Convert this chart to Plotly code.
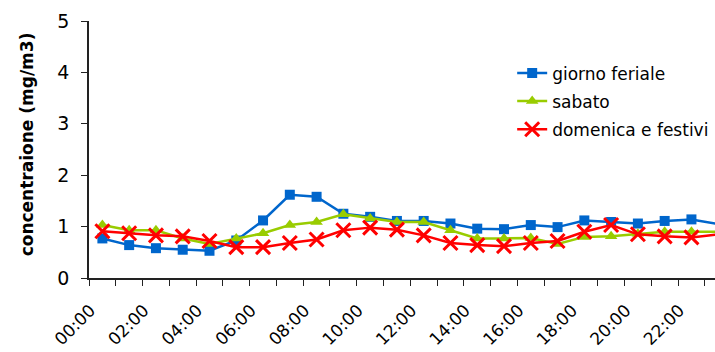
import plotly.graph_objects as go

# Hourly time slots
hours = [f"{h:02d}:00" for h in range(24)]

# Mean concentration (mg/m3) per hour
giorno_feriale = [0.77, 0.64, 0.58, 0.55, 0.53, 0.73, 1.12, 1.62, 1.58, 1.25, 1.19, 1.11,
                  1.11, 1.06, 0.96, 0.95, 1.03, 0.99, 1.12, 1.09, 1.06, 1.11, 1.14, 1.05]
sabato = [1.03, 0.93, 0.93, 0.77, 0.66, 0.77, 0.87, 1.03, 1.09, 1.24, 1.16, 1.09,
          1.09, 0.93, 0.77, 0.77, 0.78, 0.66, 0.80, 0.81, 0.86, 0.90, 0.90, 0.90]
domenica = [0.91, 0.87, 0.83, 0.81, 0.72, 0.60, 0.60, 0.68, 0.75, 0.93, 0.98, 0.94,
            0.83, 0.68, 0.64, 0.62, 0.68, 0.72, 0.90, 1.03, 0.85, 0.81, 0.79, 0.85]

x_idx = list(range(len(hours)))
FONT = "DejaVu Sans"

fig = go.Figure()
fig.add_trace(go.Scatter(
    x=x_idx, y=giorno_feriale, name="giorno feriale", mode="lines+markers",
    line=dict(color="#0066CC", width=2.5),
    marker=dict(symbol="square", size=10, color="#0066CC"),
    cliponaxis=False, legendgroup="a"))
fig.add_trace(go.Scatter(
    x=x_idx, y=sabato, name="sabato", mode="lines+markers",
    line=dict(color="#99CC00", width=2.5),
    marker=dict(symbol="triangle-up", size=11, color="#99CC00"),
    cliponaxis=False, legendgroup="b"))
fig.add_trace(go.Scatter(
    x=x_idx, y=domenica, name="domenica e festivi", mode="lines+markers",
    line=dict(color="#FF0000", width=2.5),
    marker=dict(symbol="x-thin", size=14, color="#FF0000",
                line=dict(color="#FF0000", width=3)),
    cliponaxis=False, legendgroup="c"))

fig.update_layout(
    width=715, height=352,
    margin=dict(l=89, r=0, t=21, b=74),
    paper_bgcolor="white", plot_bgcolor="white",
    font=dict(family=FONT, color="#000000"),
    showlegend=True,
    legend=dict(
        x=0.676, y=0.866, xanchor="left", yanchor="top",
        bgcolor="rgba(0,0,0,0)", font=dict(size=17, family=FONT),
        traceorder="grouped", tracegroupgap=3,
    ),
    xaxis=dict(
        range=[-0.5, 22.88],
        automargin=False,
        tickmode="array",
        tickvals=x_idx[::2],
        ticktext=hours[::2],
        tickangle=-45,
        ticks="",
        ticklabelstandoff=14,
        ticklabelshift=-12,
        tickfont=dict(size=17, family=FONT),
        showline=True, linecolor="#222222", linewidth=1.5,
        showgrid=False, zeroline=False,
        minor=dict(ticks="outside", ticklen=6, tickwidth=1.2, tickcolor="#222222",
                   tickmode="linear", tick0=0.5, dtick=1, showgrid=False),
    ),
    yaxis=dict(
        range=[0, 5],
        automargin=False,
        tickmode="linear", tick0=0, dtick=1,
        ticks="outside", ticklen=6, tickwidth=1.2, tickcolor="#222222",
        ticklabelstandoff=8,
        tickfont=dict(size=19, family=FONT),
        showline=True, linecolor="#222222", linewidth=1.5,
        showgrid=False, zeroline=False,
    ),
    annotations=[dict(
        text="<b>concentraione (mg/m3)</b>",
        xref="paper", yref="paper",
        x=(27 - 89) / 626, y=0.52,
        xanchor="center", yanchor="middle",
        textangle=-90, showarrow=False,
        font=dict(size=17, family=FONT, color="#000000"),
    )],
)

fig.write_html("out.html")
